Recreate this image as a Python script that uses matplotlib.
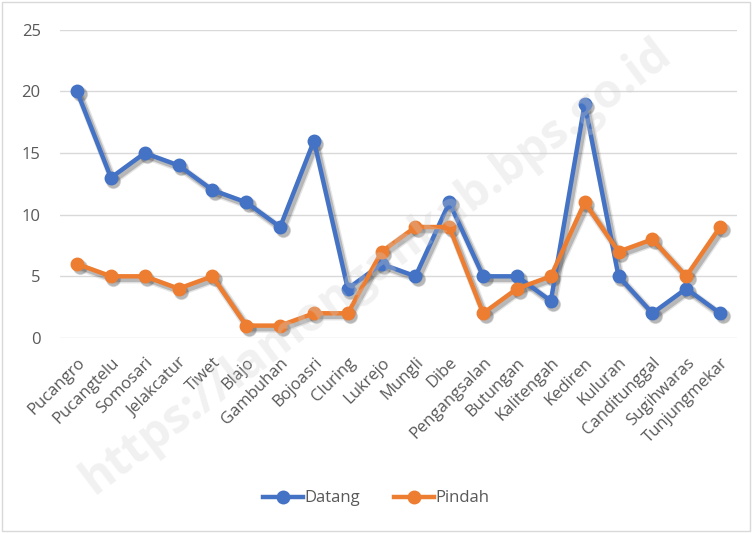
import matplotlib.pyplot as plt
import matplotlib.transforms as mtransforms
from matplotlib.patches import Rectangle

desa = ['Pucangro', 'Pucangtelu', 'Somosari', 'Jelakcatur', 'Tiwet', 'Blajo',
        'Gambuhan', 'Bojoasri', 'Cluring', 'Lukrejo', 'Mungli', 'Dibe',
        'Pengangsalan', 'Butungan', 'Kalitengah', 'Kediren', 'Kuluran',
        'Canditunggal', 'Sugihwaras', 'Tunjungmekar']
datang = [20, 13, 15, 14, 12, 11, 9, 16, 4, 6, 5, 11, 5, 5, 3, 19, 5, 2, 4, 2]
pindah = [6, 5, 5, 4, 5, 1, 1, 2, 2, 7, 9, 9, 2, 4, 5, 11, 7, 8, 5, 9]
yticks = [0, 5, 10, 15, 20, 25]

plt.rcParams['font.family'] = ['Open Sans', 'DejaVu Sans']
teks = '#595959'

fig = plt.figure(figsize=(7.52, 5.33), dpi=100)
ax = fig.add_axes([0.08, 0.366, 0.9, 0.578])

x = list(range(len(desa)))
# bayangan: salinan garis digeser sedikit ke kanan bawah
geser = mtransforms.offset_copy(ax.transData, fig=fig, x=2.5, y=-3, units='dots')
for y in (datang, pindah):
    for lw, a in [(6, 0.12), (4, 0.25)]:
        ax.plot(x, y, color='#303030', lw=lw, marker='o', ms=8 + lw / 2, alpha=a,
                mec='none', transform=geser, zorder=2)

ax.plot(x, datang, color='#4472C4', lw=3.2, marker='o', ms=9, label='Datang', zorder=3)
ax.plot(x, pindah, color='#ED7D31', lw=3.2, marker='o', ms=9, label='Pindah', zorder=4)

ax.set_xlim(-0.5, len(desa) - 0.5)
ax.set_ylim(0, 25)
ax.set_yticks(yticks)
ax.set_xticks(x)
ax.set_xticklabels(desa, rotation=45, ha='right', rotation_mode='anchor')
ax.tick_params(axis='both', length=0, colors=teks, labelsize=12)
ax.tick_params(axis='x', pad=12)
ax.tick_params(axis='y', pad=14)
ax.grid(axis='y', color='#d9d9d9', lw=1)
ax.set_axisbelow(True)
for s in ax.spines.values():
    s.set_visible(False)

leg = fig.legend(loc='center', bbox_to_anchor=(0.5, 0.065), ncol=2, frameon=False,
                 fontsize=12, handlelength=2.4, columnspacing=2.0, handletextpad=0.1)
for t in leg.get_texts():
    t.set_color(teks)

# watermark
fig.text(0.5, 0.5, 'https://lamongankab.bps.go.id', fontsize=34, fontweight='bold',
         color='#d0d0d0', alpha=0.3, rotation=37, ha='center', va='center', zorder=0)

fig.patches.append(Rectangle((0.003, 0.003), 0.994, 0.994, transform=fig.transFigure,
                             fill=False, edgecolor='#d9d9d9', lw=1))

fig.savefig('out.png', dpi=100)
